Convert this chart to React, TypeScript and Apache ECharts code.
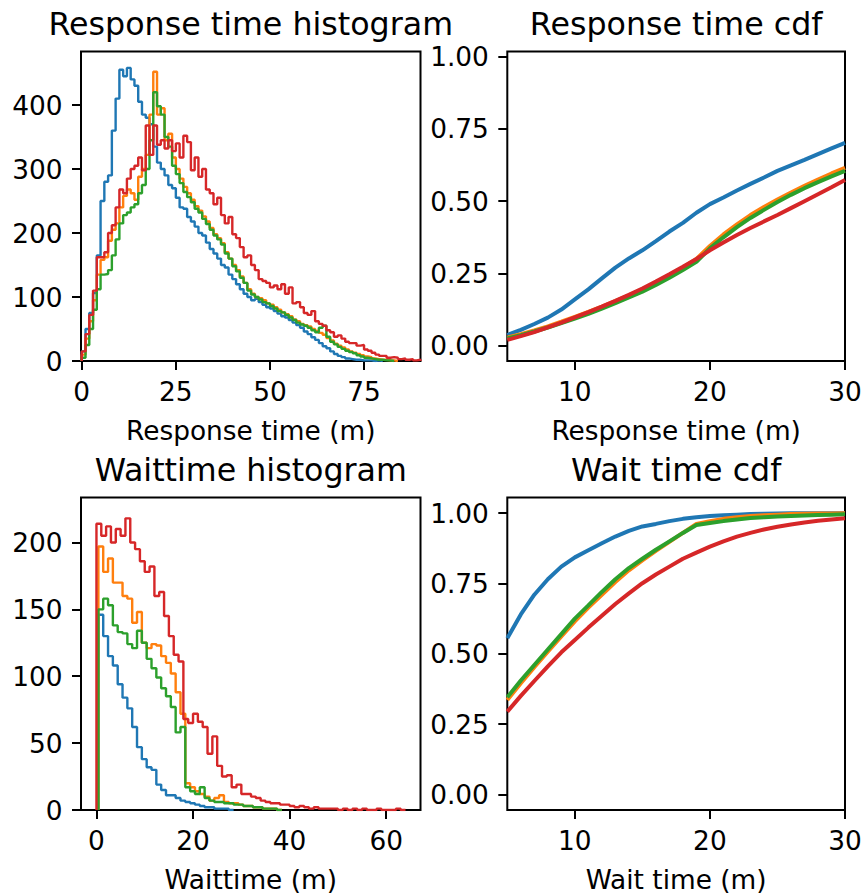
import React, { useEffect, useRef } from 'react';
import * as echarts from 'echarts';

const COLORS = ['#1f77b4', '#ff7f0e', '#2ca02c', '#d62728'];
const FONT = 'DejaVu Sans';

// ---------- Response time histogram (bin width 1 minute) ----------
const respBinWidth = 1;
const respStarts = [0, 0, 0, 0];
const respBlue = [15, 50, 75, 106, 165, 250, 280, 290, 360, 410, 455, 445, 458, 440, 430, 405, 385, 380, 370, 335,
  310, 300, 290, 275, 270, 255, 240, 238, 225, 218, 210, 200, 196, 185, 175, 168, 160, 150, 146, 135,
  128, 120, 112, 105, 100, 95, 97, 92, 88, 84, 82, 78, 74, 70, 68, 64, 60, 56, 52, 46,
  42, 37, 33, 28, 23, 20, 15, 11, 8, 6, 4, 3, 2, 2, 1, 1, 1, 0, 1, 0];
const respOrange = [10, 35, 62, 95, 135, 158, 162, 188, 205, 215, 240, 258, 268, 262, 252, 288, 300, 322, 385, 452,
  385, 395, 345, 355, 318, 300, 285, 272, 262, 252, 242, 235, 226, 218, 208, 198, 192, 184, 170, 160,
  150, 142, 132, 122, 112, 105, 100, 98, 95, 90, 88, 84, 80, 76, 73, 70, 65, 62, 58, 56,
  54, 50, 47, 44, 41, 36, 32, 27, 24, 21, 18, 15, 13, 11, 9, 7, 6, 4, 3, 2, 2, 1, 1, 0];
const respGreen = [5, 25, 50, 80, 112, 135, 136, 142, 165, 190, 215, 228, 232, 240, 245, 262, 275, 300, 345, 420,
  398, 385, 350, 335, 305, 292, 278, 264, 256, 248, 238, 232, 222, 214, 205, 196, 190, 182, 168, 160,
  148, 140, 130, 122, 110, 104, 100, 96, 92, 90, 86, 82, 78, 76, 72, 68, 64, 60, 57, 55,
  52, 48, 45, 52, 55, 38, 30, 26, 22, 19, 16, 14, 12, 9, 7, 5, 4, 3, 2, 2, 1, 1, 0];
const respRed = [15, 42, 72, 110, 162, 162, 170, 200, 212, 240, 268, 262, 285, 300, 305, 318, 298, 368, 322, 368,
  338, 345, 332, 345, 328, 340, 318, 352, 342, 298, 318, 288, 300, 268, 262, 245, 255, 228, 215, 225,
  198, 192, 178, 162, 165, 150, 142, 128, 125, 122, 115, 118, 112, 120, 105, 115, 90, 92, 84, 75,
  72, 78, 62, 58, 55, 48, 45, 38, 40, 35, 30, 28, 28, 24, 25, 18, 16, 13, 10, 8,
  8, 5, 6, 5, 3, 4, 2, 3, 1, 2];

// ---------- Wait time histogram (bin width 1 minute) ----------
const waitBinWidth = 1;
const waitStarts = [0.4, 0.4, 0.4, 0];
const waitBlue = [146, 130, 115, 108, 94, 84, 76, 62, 47, 38, 32, 30, 19, 15, 11, 11, 9, 7, 6, 5,
  4, 3, 2, 2, 1, 1, 1, 0];
const waitOrange = [197, 178, 188, 170, 170, 160, 158, 140, 148, 125, 121, 124, 123, 115, 110, 102, 88, 72, 20, 17,
  14, 12, 10, 7, 9, 11, 6, 5, 5, 4, 3, 3, 2, 2, 1, 1, 1, 0];
const waitGreen = [150, 158, 153, 138, 133, 132, 124, 121, 134, 125, 113, 106, 99, 91, 85, 77, 58, 62, 17, 14,
  12, 17, 9, 7, 6, 6, 5, 5, 4, 4, 3, 3, 2, 2, 1, 1, 1, 0];
const waitRed = [214, 205, 212, 200, 210, 205, 218, 200, 195, 186, 178, 182, 160, 163, 145, 130, 116, 111, 68, 65,
  72, 66, 62, 42, 55, 33, 25, 26, 17, 19, 12, 12, 10, 9, 7, 6, 5, 5, 4, 4,
  3, 2, 3, 2, 1, 2, 1, 1, 1, 1, 0, 1, 0, 1, 0, 1, 0, 0, 1, 0, 0, 0, 1, 0];

// ---------- CDFs ----------
const cdfX = [5, 6, 7, 8, 9, 10, 11, 12, 13, 14, 15, 16, 17, 18, 19, 20, 21, 22, 23, 24, 25, 26, 27, 28, 29, 30];
const respCdfBlue = [0.037, 0.055, 0.075, 0.097, 0.125, 0.16, 0.195, 0.233, 0.27, 0.302, 0.33, 0.362, 0.395, 0.425, 0.46,
  0.49, 0.513, 0.537, 0.56, 0.582, 0.605, 0.624, 0.643, 0.663, 0.683, 0.702];
const respCdfOrange = [0.028, 0.04, 0.053, 0.067, 0.083, 0.1, 0.117, 0.135, 0.154, 0.174, 0.195, 0.218, 0.243, 0.27, 0.3,
  0.345, 0.385, 0.42, 0.452, 0.48, 0.506, 0.53, 0.553, 0.575, 0.596, 0.615];
const respCdfGreen = [0.025, 0.036, 0.049, 0.063, 0.078, 0.094, 0.11, 0.128, 0.147, 0.167, 0.187, 0.21, 0.235, 0.262, 0.29,
  0.337, 0.375, 0.41, 0.442, 0.47, 0.497, 0.522, 0.545, 0.566, 0.586, 0.605];
const respCdfRed = [0.02, 0.033, 0.047, 0.063, 0.08, 0.098, 0.116, 0.135, 0.155, 0.176, 0.198, 0.222, 0.247, 0.273, 0.3,
  0.33, 0.357, 0.383, 0.407, 0.43, 0.452, 0.476, 0.5, 0.524, 0.548, 0.573];

const waitCdfBlue = [0.555, 0.64, 0.71, 0.765, 0.81, 0.843, 0.868, 0.893, 0.917, 0.937, 0.953, 0.962, 0.972, 0.98, 0.986,
  0.99, 0.993, 0.995, 0.997, 0.998, 0.999, 1.0, 1.0, 1.0, 1.0, 1.0];
const waitCdfOrange = [0.335, 0.395, 0.452, 0.507, 0.562, 0.615, 0.664, 0.71, 0.755, 0.797, 0.832, 0.866, 0.898, 0.93, 0.962,
  0.972, 0.98, 0.986, 0.99, 0.993, 0.995, 0.997, 0.998, 0.999, 0.999, 1.0];
const waitCdfGreen = [0.345, 0.405, 0.46, 0.515, 0.57, 0.625, 0.672, 0.72, 0.765, 0.805, 0.838, 0.87, 0.9, 0.93, 0.958,
  0.965, 0.972, 0.978, 0.983, 0.986, 0.988, 0.99, 0.992, 0.994, 0.995, 0.996];
const waitCdfRed = [0.294, 0.35, 0.403, 0.455, 0.505, 0.549, 0.593, 0.635, 0.677, 0.715, 0.751, 0.782, 0.81, 0.838, 0.86,
  0.881, 0.9, 0.917, 0.93, 0.942, 0.952, 0.96, 0.967, 0.973, 0.978, 0.982];

// ---------- Axis ticks & texts ----------
const respHistXTicks = [0, 25, 50, 75];
const respHistYTicks = [0, 100, 200, 300, 400];
const waitHistXTicks = [0, 20, 40, 60];
const waitHistYTicks = [0, 50, 100, 150, 200];
const cdfXTicks = [10, 20, 30];
const cdfYTicks = [0, 0.25, 0.5, 0.75, 1.0];

const titles = ['Response time histogram', 'Response time cdf', 'Waittime histogram', 'Wait time cdf'];
const xLabels = ['Response time (m)', 'Response time (m)', 'Waittime (m)', 'Wait time (m)'];

function stepData(start: number, width: number, counts: number[]) {
  const pts: number[][] = [[start, 0]];
  counts.forEach((c, i) => pts.push([start + i * width, c]));
  const end = start + counts.length * width;
  pts.push([end, counts[counts.length - 1]]);
  pts.push([end, 0]);
  return pts;
}

const TICK_FS = 26.4;
const TITLE_FS = 31.7;

const grids = [
  { left: 81, top: 51.5, width: 339.5, height: 309.5 },
  { left: 507.3, top: 51.5, width: 337.7, height: 309.5 },
  { left: 81, top: 497.5, width: 339.5, height: 312.5 },
  { left: 507.3, top: 497.5, width: 337.7, height: 312.5 },
];

function makeXAxis(i: number, min: number, max: number, ticks: number[]) {
  return {
    type: 'value',
    gridIndex: i,
    position: 'bottom',
    min,
    max,
    axisLine: { show: false, onZero: false },
    splitLine: { show: false },
    axisTick: { show: true, length: 9, lineStyle: { color: '#000', width: 2 }, customValues: ticks },
    axisLabel: {
      show: true,
      customValues: ticks,
      margin: 17.6,
      fontSize: TICK_FS,
      lineHeight: TICK_FS,
      fontFamily: FONT,
      color: '#000',
      formatter: (v: number) => String(v),
    },
  };
}

function makeYAxis(i: number, min: number, max: number, ticks: number[], decimals: number) {
  return {
    type: 'value',
    gridIndex: i,
    position: 'left',
    min,
    max,
    axisLine: { show: false, onZero: false },
    splitLine: { show: false },
    axisTick: { show: true, length: 9, lineStyle: { color: '#000', width: 2 }, customValues: ticks },
    axisLabel: {
      show: true,
      customValues: ticks,
      margin: 18.4,
      fontSize: TICK_FS,
      lineHeight: TICK_FS,
      fontFamily: FONT,
      color: '#000',
      formatter: (v: number) => v.toFixed(decimals),
    },
  };
}

export default function App() {
  const ref = useRef<HTMLDivElement>(null);

  useEffect(() => {
    if (!ref.current) return;
    const chart = echarts.init(ref.current, undefined, { renderer: 'svg' });

    const histSeries = (axis: number, starts: number[], width: number, sets: number[][]) =>
      sets.map((counts, k) => ({
        type: 'line',
        xAxisIndex: axis,
        yAxisIndex: axis,
        step: 'end',
        symbol: 'none',
        showSymbol: false,
        lineStyle: { color: COLORS[k], width: 2.4 },
        itemStyle: { color: COLORS[k] },
        data: stepData(starts[k], width, counts),
        z: 2 + k,
      }));

    const cdfSeries = (axis: number, sets: number[][]) =>
      sets.map((vals, k) => ({
        type: 'line',
        xAxisIndex: axis,
        yAxisIndex: axis,
        symbol: 'none',
        showSymbol: false,
        lineStyle: { color: COLORS[k], width: 4 },
        itemStyle: { color: COLORS[k] },
        data: vals.map((v, j) => [cdfX[j], v]),
        z: 2 + k,
      }));

    const graphics: any[] = [];
    grids.forEach((g, i) => {
      const cx = g.left + g.width / 2;
      graphics.push({
        type: 'text',
        x: cx,
        y: g.top - 27.5,
        style: {
          text: titles[i],
          fontSize: TITLE_FS,
          fontFamily: FONT,
          fill: '#000',
          align: 'center',
          verticalAlign: 'middle',
        },
      });
      graphics.push({
        type: 'text',
        x: cx,
        y: g.top + g.height + 69,
        style: {
          text: xLabels[i],
          fontSize: TICK_FS,
          fontFamily: FONT,
          fill: '#000',
          align: 'center',
          verticalAlign: 'middle',
        },
      });
    });

    chart.setOption({
      animation: false,
      backgroundColor: '#fff',
      grid: grids.map((g) => ({
        ...g,
        show: true,
        borderColor: '#000',
        borderWidth: 2,
        backgroundColor: 'transparent',
        containLabel: false,
        outerBoundsMode: 'none',
      })),
      xAxis: [
        makeXAxis(0, -0.2, 90, respHistXTicks),
        makeXAxis(1, 5, 30, cdfXTicks),
        makeXAxis(2, -3.2, 67.1, waitHistXTicks),
        makeXAxis(3, 5, 30, cdfXTicks),
      ],
      yAxis: [
        makeYAxis(0, 0, 483.6, respHistYTicks, 0),
        makeYAxis(1, -0.053, 1.018, cdfYTicks, 2),
        makeYAxis(2, 0, 233.6, waitHistYTicks, 0),
        makeYAxis(3, -0.056, 1.056, cdfYTicks, 2),
      ],
      series: [
        ...histSeries(0, respStarts, respBinWidth, [respBlue, respOrange, respGreen, respRed]),
        ...cdfSeries(1, [respCdfBlue, respCdfOrange, respCdfGreen, respCdfRed]),
        ...histSeries(2, waitStarts, waitBinWidth, [waitBlue, waitOrange, waitGreen, waitRed]),
        ...cdfSeries(3, [waitCdfBlue, waitCdfOrange, waitCdfGreen, waitCdfRed]),
      ],
      graphic: graphics,
    });

    return () => chart.dispose();
  }, []);

  return (
    <div
      ref={ref}
      style={{ position: 'absolute', left: 0, top: 0, width: 861, height: 896, background: '#fff' }}
    />
  );
}
